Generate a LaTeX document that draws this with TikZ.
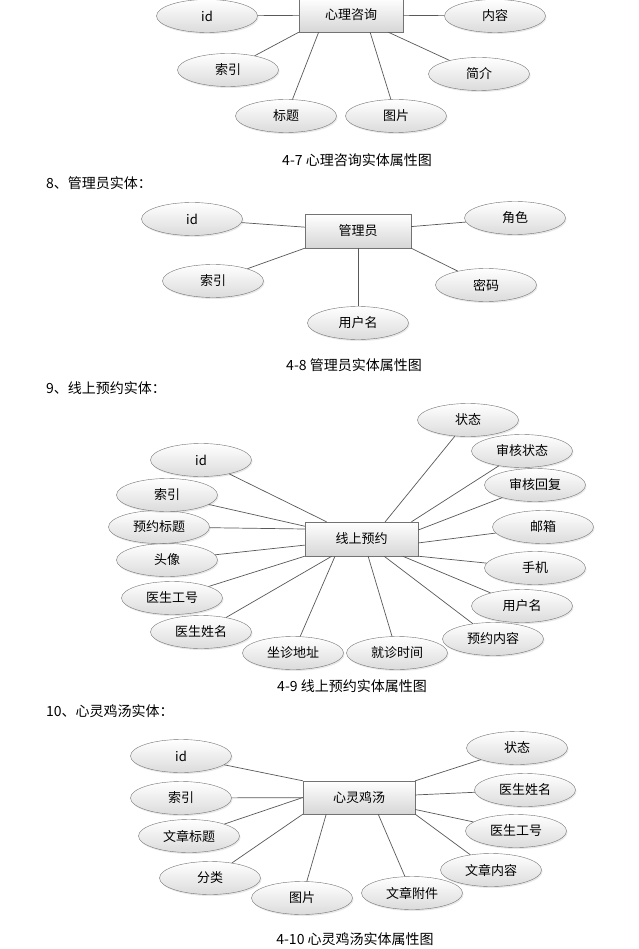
\documentclass[tikz,border=0pt]{standalone}
\usepackage{fontspec}
\setmainfont{Noto Sans CJK SC}
\usepackage{xcolor}
\usepackage{tikz}
\usetikzlibrary{positioning,shapes.geometric,shadows}

\begin{document}
\begin{tikzpicture}[
    x=1pt,y=-1pt,
    entity/.style={draw=black!55, top color=white, bottom color=black!16, minimum width=104pt, minimum height=34pt, inner sep=2pt, font=\fontsize{13}{15}\selectfont},
    attr/.style={ellipse, draw=black!55, top color=white, bottom color=black!14, drop shadow={opacity=0.18, shadow xshift=1pt, shadow yshift=-1.5pt}, minimum width=101pt, minimum height=33pt, inner sep=0pt, font=\fontsize{13}{15}\selectfont},
    edge/.style={draw=black!65, line width=0.7pt},
    heading/.style={anchor=west, inner sep=0pt, font=\fontsize{14}{16}\selectfont},
    figcap/.style={inner sep=0pt, font=\fontsize{14}{16}\selectfont}
  ]
    \path[use as bounding box, fill=white] (0,0) rectangle (638,949);

    \node[entity] (e7) at (351,15) {心理咨询};
    \node[attr] (id7) at (207,16) {id};
    \node[attr] (nr7) at (495,16) {内容};
    \node[attr] (sy7) at (228,70) {索引};
    \node[attr] (jj7) at (479,74) {简介};
    \node[attr] (bt7) at (286,116) {标题};
    \node[attr] (tp7) at (396,116) {图片};
    \draw[edge] (id7) -- (e7);
    \draw[edge] (nr7) -- (e7);
    \draw[edge] (sy7) -- (e7.south west);
    \draw[edge] (bt7) -- (e7.208);
    \draw[edge] (tp7) -- (e7.318);
    \draw[edge] (jj7) -- (e7);
    \node[figcap] (c7) at (357,160) {4-7 心理咨询实体属性图};

    \node[heading] (h8) at (46,183) {8、管理员实体：};
    \node[entity, minimum width=106pt] (e8) at (358,231) {管理员};
    \node[attr] (id8) at (192,219) {id};
    \node[attr] (js8) at (515,218) {角色};
    \node[attr] (sy8) at (213,281) {索引};
    \node[attr] (mm8) at (486,285) {密码};
    \node[attr] (yh8) at (358,323) {用户名};
    \draw[edge] (id8) -- (e8);
    \draw[edge] (js8) -- (e8);
    \draw[edge] (sy8) -- (e8.south west);
    \draw[edge] (yh8) -- (e8);
    \draw[edge] (mm8) -- (e8.south east);
    \node[figcap] (c8) at (354,365) {4-8 管理员实体属性图};

    \node[heading] (h9) at (46,388) {9、线上预约实体：};
    \node[entity, minimum width=113pt] (e9) at (361.5,539) {线上预约};
    \node[attr] (zt9) at (468,420) {状态};
    \node[attr] (sh9) at (522,451) {审核状态};
    \node[attr] (hf9) at (535,485) {审核回复};
    \node[attr] (yx9) at (543,527) {邮箱};
    \node[attr] (sj9) at (535,568) {手机};
    \node[attr] (yh9) at (522,606) {用户名};
    \node[attr] (nr9) at (493,639) {预约内容};
    \node[attr] (jz9) at (397,653) {就诊时间};
    \node[attr] (dz9) at (293,653) {坐诊地址};
    \node[attr] (xm9) at (201,632) {医生姓名};
    \node[attr] (gh9) at (172,598) {医生工号};
    \node[attr] (tx9) at (167,560) {头像};
    \node[attr] (bt9) at (159,527) {预约标题};
    \node[attr] (sy9) at (167,495) {索引};
    \node[attr] (id9) at (201,460) {id};
    \draw[edge] (id9) -- (e9);
    \draw[edge] (sy9) -- (e9);
    \draw[edge] (bt9) -- (e9.170);
    \draw[edge] (tx9) -- (e9);
    \draw[edge] (gh9) -- (e9.south west);
    \draw[edge] (xm9) -- (e9);
    \draw[edge] (dz9) -- (e9.213);
    \draw[edge] (jz9) -- (e9.291);
    \draw[edge] (nr9) -- (e9);
    \draw[edge] (yh9) -- (e9);
    \draw[edge] (sj9) -- (e9.south east);
    \draw[edge] (yx9) -- (e9.356);
    \draw[edge] (hf9) -- (e9.9);
    \draw[edge] (sh9) -- (e9.19);
    \draw[edge] (zt9) -- (e9.36);
    \node[figcap] (c9) at (352,686) {4-9 线上预约实体属性图};

    \node[heading] (h10) at (46,711) {10、心灵鸡汤实体：};
    \node[entity, minimum width=112pt, minimum height=33pt] (e10) at (359,797.5) {心灵鸡汤};
    \node[attr] (id10) at (181,756) {id};
    \node[attr] (sy10) at (181,798) {索引};
    \node[attr] (bt10) at (189,836) {文章标题};
    \node[attr] (fl10) at (210,878) {分类};
    \node[attr] (tp10) at (302,898) {图片};
    \node[attr] (fj10) at (412,893) {文章附件};
    \node[attr] (nr10) at (491,870) {文章内容};
    \node[attr] (gh10) at (516,831) {医生工号};
    \node[attr] (xm10) at (525,790) {医生姓名};
    \node[attr] (zt10) at (517,748) {状态};
    \draw[edge] (id10) -- (e10.north west);
    \draw[edge] (sy10) -- (e10);
    \draw[edge] (bt10) -- (e10.west);
    \draw[edge] (fl10) -- (e10.south west);
    \draw[edge] (tp10) -- (e10.207);
    \draw[edge] (fj10) -- (e10.319);
    \draw[edge] (nr10) -- (e10.south east);
    \draw[edge] (gh10) -- (e10);
    \draw[edge] (xm10) -- (e10);
    \draw[edge] (zt10) -- (e10.north east);
    \node[figcap] (c10) at (355,939) {4-10 心灵鸡汤实体属性图};
  \end{tikzpicture}
\end{document}
